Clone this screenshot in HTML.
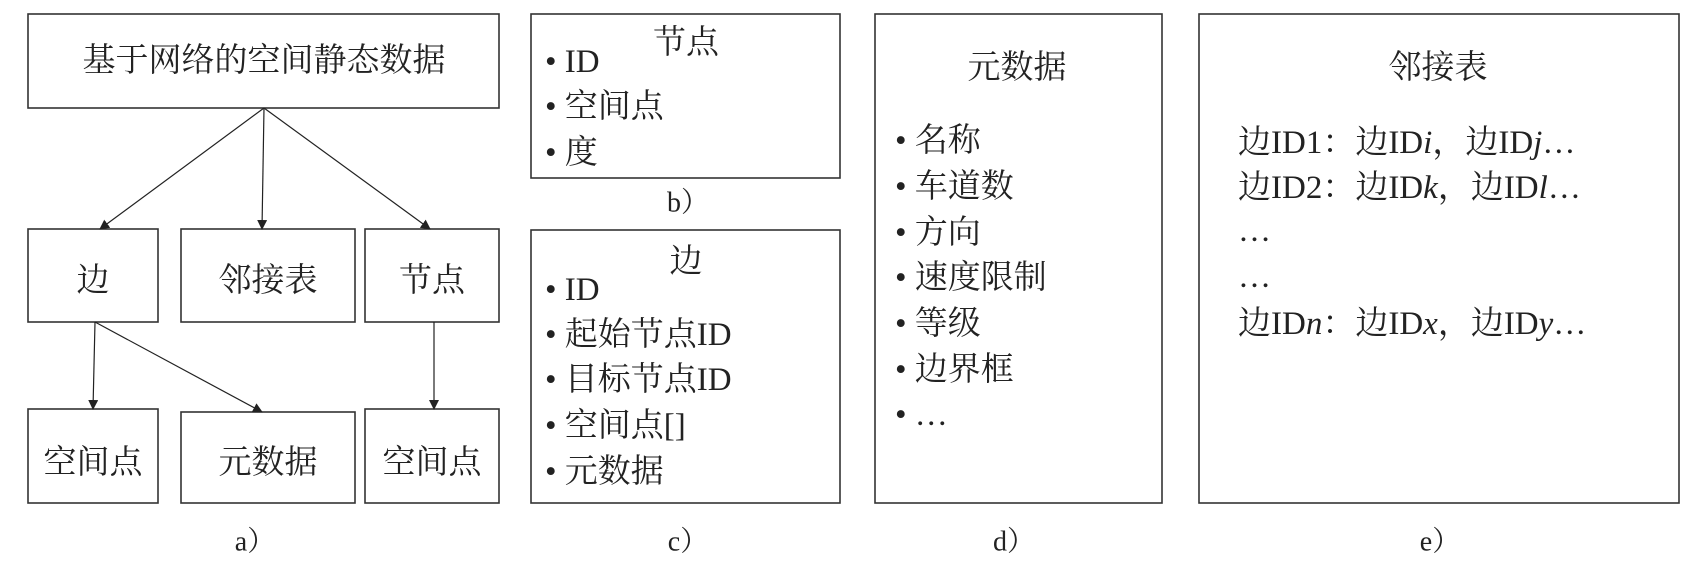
<!DOCTYPE html>
<html><head><meta charset="utf-8"><style>
html,body{margin:0;padding:0;background:#fff;}
svg{display:block;}
text{font-family:"Liberation Serif","Noto Serif CJK SC",serif;font-size:33px;fill:#222;dominant-baseline:central;}
.c{text-anchor:middle;}
</style></head><body>
<svg width="1695" height="585" viewBox="0 0 1695 585" xmlns="http://www.w3.org/2000/svg">
<defs><marker id="a" markerWidth="10" markerHeight="10" refX="9" refY="5" orient="auto" markerUnits="userSpaceOnUse"><path d="M0,0 L10,5 L0,10 z" fill="#222"/></marker></defs>
<g fill="none" stroke="#333" stroke-width="1.6">
<rect x="28" y="14" width="471" height="94"/>
<rect x="28" y="229" width="130" height="93"/>
<rect x="181" y="229" width="174" height="93"/>
<rect x="365" y="229" width="134" height="93"/>
<rect x="28" y="409" width="130" height="94"/>
<rect x="181" y="412" width="174" height="91"/>
<rect x="365" y="409" width="134" height="94"/>
<rect x="531" y="14" width="309" height="164"/>
<rect x="531" y="230" width="309" height="273"/>
<rect x="875" y="14" width="287" height="489"/>
<rect x="1199" y="14" width="480" height="489"/>
</g>
<g stroke="#222" stroke-width="1.2" marker-end="url(#a)">
<line x1="264" y1="108" x2="100" y2="229"/>
<line x1="264" y1="108" x2="262" y2="229"/>
<line x1="264" y1="108" x2="430" y2="229"/>
<line x1="95" y1="322" x2="93" y2="409"/>
<line x1="95" y1="322" x2="262" y2="412"/>
<line x1="434" y1="322" x2="434" y2="409"/>
</g>
<text class="c" x="264" y="61">基于网络的空间静态数据</text>
<text class="c" x="93" y="281">边</text>
<text class="c" x="268" y="281">邻接表</text>
<text class="c" x="432" y="281">节点</text>
<text class="c" x="93" y="463">空间点</text>
<text class="c" x="268" y="463">元数据</text>
<text class="c" x="432" y="463">空间点</text>
<text class="c" x="255" y="542" style="font-size:28px">a）</text>

<text class="c" x="686" y="43">节点</text>
<text x="545" y="62">• ID</text>
<text x="545" y="107">• 空间点</text>
<text x="545" y="153">• 度</text>
<text class="c" x="688" y="203" style="font-size:28px">b）</text>

<text class="c" x="686" y="262">边</text>
<text x="545" y="290">• ID</text>
<text x="545" y="335">• 起始节点ID</text>
<text x="545" y="380">• 目标节点ID</text>
<text x="545" y="426">• 空间点[]</text>
<text x="545" y="472">• 元数据</text>
<text class="c" x="688" y="542" style="font-size:28px">c）</text>

<text class="c" x="1017" y="68">元数据</text>
<text x="895" y="141">• 名称</text>
<text x="895" y="187">• 车道数</text>
<text x="895" y="233">• 方向</text>
<text x="895" y="278">• 速度限制</text>
<text x="895" y="324">• 等级</text>
<text x="895" y="370">• 边界框</text>
<text x="895" y="415">• …</text>
<text class="c" x="1014" y="542" style="font-size:28px">d）</text>

<text class="c" x="1438" y="68">邻接表</text>
<text x="1238" y="143">边ID1：边ID<tspan font-style="italic">i</tspan>，边ID<tspan font-style="italic">j</tspan>…</text>
<text x="1238" y="188">边ID2：边ID<tspan font-style="italic">k</tspan>，边ID<tspan font-style="italic">l</tspan>…</text>
<text x="1238" y="231">…</text>
<text x="1238" y="277">…</text>
<text x="1238" y="324">边ID<tspan font-style="italic">n</tspan>：边ID<tspan font-style="italic">x</tspan>，边ID<tspan font-style="italic">y</tspan>…</text>
<text class="c" x="1440" y="542" style="font-size:28px">e）</text>
</svg>
</body></html>
